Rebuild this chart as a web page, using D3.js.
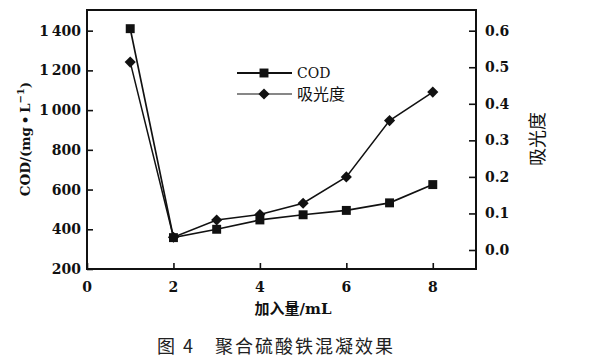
<!DOCTYPE html>
<html>
<head>
<meta charset="utf-8">
<script src="https://cdn.jsdelivr.net/npm/d3@7"></script>
<style>
  body { margin: 0; background: #fff; }
  svg text { fill: #111; }
  .num { font-family: "DejaVu Serif", serif; font-weight: bold; font-size: 14px; }
  .cjk { font-family: "Noto Sans CJK SC", sans-serif; }
</style>
</head>
<body>
<svg id="chart" width="590" height="361"></svg>
<script>
// data
const dose = [1, 2, 3, 4, 5, 6, 7, 8];
const cod = [1410, 358, 400, 447, 473, 495, 533, 625];
const absorb = [0.514, 0.035, 0.082, 0.097, 0.128, 0.2, 0.354, 0.432];
const xTicks = [0, 2, 4, 6, 8];
const codTicks = [200, 400, 600, 800, 1000, 1200, 1400];
const absTicks = [0, 0.1, 0.2, 0.3, 0.4, 0.5, 0.6];

const svg = d3.select("#chart");
const M = { left: 87, right: 476, top: 10, bottom: 269 };

const x = d3.scaleLinear().domain([0, 9]).range([M.left, M.right]);
const yL = d3.scaleLinear().domain([200, 1504]).range([M.bottom, M.top]);
const yR = d3.scaleLinear().domain([-0.052, 0.6566]).range([M.bottom, M.top]);

const fmtCod = (d) => d >= 1000 ? Math.floor(d / 1000) + "\u2009" + d3.format("03d")(d % 1000) : d;

// left axis, ticks inward
svg.append("g")
  .attr("transform", "translate(" + M.left + ",0)")
  .call(d3.axisRight(yL).tickValues(codTicks).tickSize(6).tickFormat(""));
svg.append("g").selectAll("text")
  .data(codTicks)
  .join("text")
  .classed("num", true)
  .attr("x", M.left - 6)
  .attr("y", (d) => yL(d) + 5)
  .attr("text-anchor", "end")
  .text(fmtCod);

// right axis, ticks inward
svg.append("g")
  .attr("transform", "translate(" + M.right + ",0)")
  .call(d3.axisLeft(yR).tickValues(absTicks).tickSize(7).tickFormat(""));
svg.append("g").selectAll("text")
  .data(absTicks)
  .join("text")
  .classed("num", true)
  .attr("x", M.right + 9)
  .attr("y", (d) => yR(d) + 5)
  .text(d3.format(".1f"));

// bottom axis, ticks inward
svg.append("g")
  .attr("transform", "translate(0," + M.bottom + ")")
  .call(d3.axisTop(x).tickValues(xTicks).tickSize(6).tickFormat(""));
svg.append("g").selectAll("text")
  .data(xTicks)
  .join("text")
  .classed("num", true)
  .attr("x", (d) => x(d))
  .attr("y", 292)
  .attr("text-anchor", "middle")
  .text((d) => d);

svg.selectAll(".domain").remove();
svg.selectAll(".tick line").attr("stroke", "#111").attr("stroke-width", 1.6);

// frame
svg.append("rect")
  .attr("x", M.left)
  .attr("y", M.top)
  .attr("width", M.right - M.left)
  .attr("height", M.bottom - M.top)
  .attr("fill", "none")
  .attr("stroke", "#111")
  .attr("stroke-width", 2);

// lines
const lineCod = d3.line().x((d, i) => x(dose[i])).y((d) => yL(d));
const lineAbs = d3.line().x((d, i) => x(dose[i])).y((d) => yR(d));

svg.append("path")
  .datum(absorb)
  .attr("d", lineAbs)
  .attr("fill", "none")
  .attr("stroke", "#111")
  .attr("stroke-width", 1.5);

svg.append("path")
  .datum(cod)
  .attr("d", lineCod)
  .attr("fill", "none")
  .attr("stroke", "#111")
  .attr("stroke-width", 1.7);

const square = d3.symbol().type(d3.symbolSquare).size(80);
// diamond = square turned 45 degrees
const diamond = d3.symbol().type(d3.symbolSquare).size(62);

svg.append("g").selectAll("path")
  .data(absorb)
  .join("path")
  .attr("transform", (d, i) => "translate(" + x(dose[i]) + "," + yR(d) + ") rotate(45)")
  .attr("d", diamond)
  .attr("fill", "#111");

svg.append("g").selectAll("path")
  .data(cod)
  .join("path")
  .attr("transform", (d, i) => "translate(" + x(dose[i]) + "," + yL(d) + ")")
  .attr("d", square)
  .attr("fill", "#111");

// legend
const legend = svg.append("g");
legend.append("line")
  .attr("x1", 237).attr("x2", 292).attr("y1", 73).attr("y2", 73)
  .attr("stroke", "#111").attr("stroke-width", 2);
legend.append("path")
  .attr("transform", "translate(264,73)")
  .attr("d", square)
  .attr("fill", "#111");
legend.append("text")
  .attr("x", 297).attr("y", 78)
  .style("font-family", "DejaVu Serif, serif")
  .style("font-size", "14px")
  .text("COD");

legend.append("line")
  .attr("x1", 237).attr("x2", 292).attr("y1", 94).attr("y2", 94)
  .attr("stroke", "#111").attr("stroke-width", 1.2);
legend.append("path")
  .attr("transform", "translate(264,94) rotate(45)")
  .attr("d", diamond)
  .attr("fill", "#111");
legend.append("text")
  .classed("cjk", true)
  .attr("x", 297).attr("y", 100)
  .style("font-size", "16px")
  .text("吸光度");

// axis titles
const ttl = svg.append("text")
  .attr("transform", "translate(30,139) rotate(-90)")
  .attr("text-anchor", "middle")
  .style("font-family", "DejaVu Serif, serif")
  .style("font-weight", "bold")
  .style("font-size", "13.5px");
ttl.append("tspan").text("COD/(mg\u2009\u2022\u2009L");
ttl.append("tspan").attr("dy", -6).style("font-size", "10px").text("\u22121");
ttl.append("tspan").attr("dy", 6).text(")");

svg.append("text")
  .classed("cjk", true)
  .attr("transform", "translate(544,139) rotate(-90)")
  .attr("text-anchor", "middle")
  .style("font-size", "18px")
  .text("吸光度");

const xt = svg.append("text")
  .attr("x", 293).attr("y", 314)
  .attr("text-anchor", "middle")
  .style("font-size", "15px");
xt.append("tspan").classed("cjk", true).style("font-weight", "bold").text("加入量");
xt.append("tspan").style("font-family", "DejaVu Serif, serif").style("font-weight", "bold").text("/mL");

svg.append("text")
  .classed("cjk", true)
  .attr("x", 276).attr("y", 353)
  .attr("text-anchor", "middle")
  .style("font-size", "18px")
  .style("letter-spacing", "2px")
  .style("fill", "#222")
  .text("图 4\u3000聚合硫酸铁混凝效果");
</script>
</body>
</html>
